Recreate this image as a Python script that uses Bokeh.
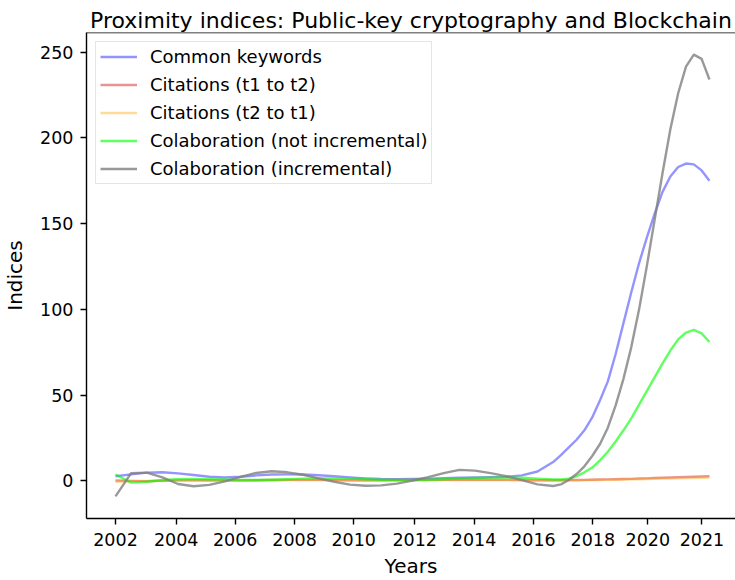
from bokeh.plotting import figure
from bokeh.models import FixedTicker, Range1d, Span
from bokeh.embed import file_html
from bokeh.resources import INLINE

# ---- data ----
years = [2002, 2002.5, 2003, 2003.5, 2004, 2004.5, 2005, 2005.5, 2006, 2006.5,
         2007, 2007.5, 2008, 2008.5, 2009, 2009.5, 2010, 2010.5, 2011, 2011.5,
         2012, 2012.5, 2013, 2013.5, 2014, 2014.5, 2015, 2015.5, 2016,
         2016.25, 2016.5, 2016.75, 2017, 2017.25, 2017.5, 2017.75, 2018,
         2018.25, 2018.5, 2018.75, 2019, 2019.25, 2019.5, 2019.75, 2020,
         2020.25, 2020.5, 2020.75, 2021]

common_keywords = [2.7, 3.8, 4.8, 5.0, 4.4, 3.4, 2.4, 2.0, 2.4, 3.2,
                   3.7, 3.8, 3.7, 3.3, 2.7, 2.0, 1.5, 1.1, 1.0, 1.1,
                   1.3, 1.6, 1.8, 2.0, 2.2, 2.4, 3.2, 5.5, 11.0,
                   15.0, 19.5, 24, 29.5, 37, 47, 58, 74,
                   92, 110, 127, 142, 156, 168.5, 177.5, 183,
                   185, 184.5, 181, 175]

citations_t1_t2 = [0.2, 0.0, -0.2, 0.0, 0.3, 0.4, 0.4, 0.3, 0.3, 0.4,
                   0.5, 0.6, 0.6, 0.6, 0.5, 0.4, 0.4, 0.4, 0.5, 0.5,
                   0.6, 0.6, 0.7, 0.7, 0.7, 0.6, 0.5, 0.4, 0.4,
                   0.4, 0.5, 0.5, 0.6, 0.7, 0.8, 0.9, 1.0,
                   1.1, 1.2, 1.4, 1.5, 1.7, 1.8, 2.0, 2.1,
                   2.3, 2.4, 2.6, 2.7]

citations_t2_t1 = [-0.5, -0.3, 0.0, 0.2, 0.3, 0.3, 0.2, 0.1, 0.1, 0.2,
                   0.3, 0.4, 0.5, 0.5, 0.4, 0.3, 0.2, 0.2, 0.2, 0.3,
                   0.3, 0.4, 0.5, 0.5, 0.5, 0.5, 0.4, 0.3, 0.3,
                   0.3, 0.3, 0.4, 0.4, 0.5, 0.5, 0.6, 0.7,
                   0.8, 0.9, 1.0, 1.1, 1.2, 1.3, 1.4, 1.5,
                   1.6, 1.7, 1.8, 1.9]

colab_not_incremental = [3.7, -1.0, -0.5, 0.5, 1.0, 1.1, 1.0, 0.8, 0.5, 0.5,
                         0.7, 1.0, 1.3, 1.5, 1.5, 1.3, 1.0, 0.7, 0.5, 0.5,
                         0.7, 1.0, 1.4, 1.7, 1.9, 2.0, 1.8, 1.3, 0.8,
                         0.8, 1.3, 2.7, 5.0, 7.8, 12, 17, 23,
                         29.5, 36.5, 44.5, 52.5, 60.5, 68.5, 76, 82.5,
                         86.5, 88, 86, 81]

colab_incremental = [-9, 4.5, 4.8, 2.0, -1.8, -3.1, -2.3, -0.3, 2.3, 4.6,
                     5.6, 5.0, 3.6, 1.5, -0.5, -2.2, -2.8, -2.6, -1.6, 0.2,
                     2.2, 4.5, 6.4, 6.0, 4.5, 2.8, 0.5, -2.0, -3.0,
                     -2.0, 0.5, 4.0, 8.5, 14.5, 21.5, 31, 44,
                     59.5, 78, 100, 125.5, 152.5, 179.5, 205, 226,
                     241.5, 248.5, 246, 234]

x_tick_positions = [2002, 2003.94, 2005.83, 2007.73, 2009.62, 2011.57,
                    2013.47, 2015.37, 2017.27, 2019.03, 2020.76]
x_tick_labels = ["2002", "2004", "2006", "2008", "2010", "2012",
                 "2014", "2016", "2018", "2020", "2021"]
y_ticks = [0, 50, 100, 150, 200, 250]

series_labels = ["Common keywords", "Citations (t1 to t2)", "Citations (t2 to t1)",
                 "Colaboration (not incremental)", "Colaboration (incremental)"]
series_colors = ["#0000ff", "#d62728", "#ffa500", "#00ff00", "#808080"]
series_alpha = [0.42, 0.5, 0.4, 0.62, 0.8]

FONT = "DejaVu Sans"
X0, X1 = 2001.072, 2021.834
Y0, Y1 = -21.92, 261.4

p = figure(width=735, height=580, output_backend="svg", toolbar_location=None,
           x_range=Range1d(X0, X1), y_range=Range1d(Y0, Y1),
           min_border_left=86, min_border_right=0, min_border_top=32,
           min_border_bottom=61,
           title="Proximity indices: Public-key cryptography and Blockchain")

p.title.text_font = FONT
p.title.text_font_size = "22px"
p.title.text_font_style = "normal"
p.title.align = "center"
p.title.standoff = 0
p.title.text_color = "black"

p.outline_line_color = None
p.grid.grid_line_color = None
p.background_fill_color = "white"
p.border_fill_color = "white"

for ax in (p.xaxis[0], p.yaxis[0]):
    ax.axis_line_width = 1.4
    ax.axis_line_color = "black"
    ax.major_tick_line_width = 1.4
    ax.major_tick_line_color = "black"
    ax.major_tick_out = 6
    ax.major_tick_in = 0
    ax.minor_tick_line_color = None
    ax.major_label_text_font = FONT
    ax.major_label_text_font_size = "17.5px"
    ax.major_label_text_color = "black"
    ax.axis_label_text_font = FONT
    ax.axis_label_text_font_size = "20px"
    ax.axis_label_text_font_style = "normal"
    ax.axis_label_text_color = "black"

p.xaxis[0].ticker = FixedTicker(ticks=x_tick_positions)
p.xaxis[0].major_label_overrides = {t: l for t, l in zip(x_tick_positions, x_tick_labels)}
p.xaxis[0].axis_label = "Years"
p.xaxis[0].major_label_standoff = 8
p.xaxis[0].axis_label_standoff = 5

p.yaxis[0].ticker = FixedTicker(ticks=y_ticks)
p.yaxis[0].axis_label = "Indices"
p.yaxis[0].major_label_standoff = 7
p.yaxis[0].axis_label_standoff = 10

# top spine
p.add_layout(Span(location=Y1, dimension="width", line_color="black", line_width=1.4))

series = [common_keywords, citations_t1_t2, citations_t2_t1,
          colab_not_incremental, colab_incremental]
for vals, lab, col, a in zip(series, series_labels, series_colors, series_alpha):
    p.line(years, vals, line_color=col, line_alpha=a, line_width=2.4,
           line_join="round", legend_label=lab)

lg = p.legend[0]
lg.location = "top_left"
lg.margin = 9
lg.padding = 4
lg.spacing = 7
lg.label_height = 21
lg.glyph_height = 21
lg.glyph_width = 37
lg.label_standoff = 13
lg.label_text_font = FONT
lg.label_text_font_size = "18px"
lg.label_text_color = "black"
lg.border_line_color = "#cccccc"
lg.border_line_width = 1
lg.background_fill_alpha = 0.8

open("out.html", "w").write(file_html(p, INLINE))
